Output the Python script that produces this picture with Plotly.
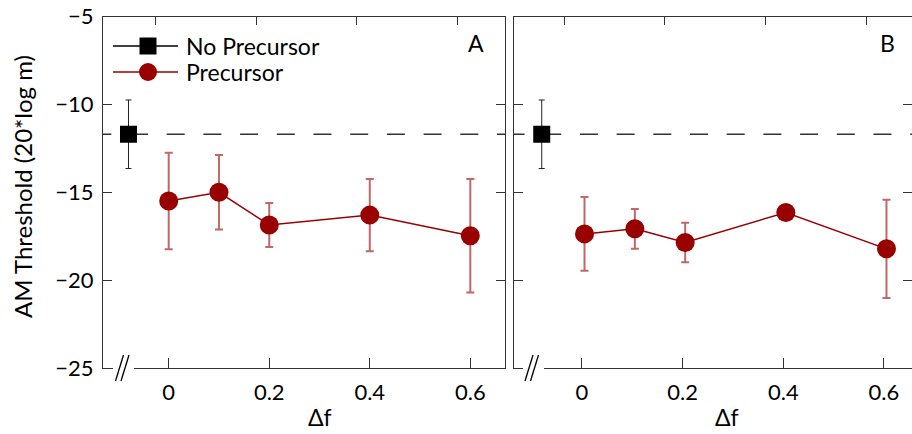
import plotly.graph_objects as go

# ---- data ----
df_a = [0.0, 0.1, 0.2, 0.4, 0.6]
prec_a = [-15.5, -15.0, -16.86, -16.3, -17.48]
prec_a_err = [2.75, 2.12, 1.25, 2.05, 3.23]

df_b = [0.005, 0.105, 0.205, 0.405, 0.605]
prec_b = [-17.37, -17.08, -17.86, -16.15, -18.22]
prec_b_err = [2.1, 1.13, 1.12, 0.15, 2.8]

noprec_x = [-0.08]
noprec_y = [-11.7]
noprec_err = [1.95]

yticks = [-25, -20, -15, -10, -5]
xticks = [0, 0.2, 0.4, 0.6]
xticktext = ["0", "0.2", "0.4", "0.6"]

W, H = 912, 434
RED = "#990000"
AX = "#333333"
FONT = "Lato"


def px(x):
    return x / W


def py(y):
    return 1 - y / H


ydom = [py(368), py(16.5)]
xdom_a = [px(103), px(505)]
xdom_b = [px(514), 1.0]
xr_a = [-0.1307, 0.669]
xr_b = [-0.1351, 0.6557]
shift_a = 0.0258
shift_b = 0.0352

fig = go.Figure()

for xa, ya, dfx, pv, pe in [("x", "y", df_a, prec_a, prec_a_err),
                            ("x2", "y2", df_b, prec_b, prec_b_err)]:
    fig.add_trace(go.Scatter(
        x=dfx, y=pv, mode="lines+markers", name="Precursor",
        xaxis=xa, yaxis=ya, showlegend=False,
        line=dict(color=RED, width=1.5),
        marker=dict(color=RED, size=19, symbol="circle"),
        error_y=dict(type="data", array=pe, visible=True,
                     color="rgba(153,0,0,0.6)", thickness=2, width=4),
    ))
    fig.add_trace(go.Scatter(
        x=noprec_x, y=noprec_y, mode="markers", name="No Precursor",
        xaxis=xa, yaxis=ya, showlegend=False,
        marker=dict(color="black", size=17, symbol="square"),
        error_y=dict(type="data", array=noprec_err, visible=True,
                     color="#222222", thickness=1, width=3),
    ))
    # dashed reference line at the no-precursor level
    fig.add_shape(type="line", xref=xa, yref=ya, x0=-0.15, x1=0.7,
                  y0=noprec_y[0], y1=noprec_y[0], layer="below",
                  line=dict(color=AX, width=1.5, dash="18px,18.7px"))

# dummy traces for overlay axes
for xa, ya in [("x3", "y"), ("x4", "y2"), ("x2", "y3")]:
    fig.add_trace(go.Scatter(x=[None], y=[None], xaxis=xa, yaxis=ya,
                             showlegend=False, hoverinfo="skip"))

tickfont = dict(family=FONT, size=22, color="black")
common_x = dict(showgrid=False, zeroline=False, ticks="inside", automargin=False,
                tickcolor=AX, tickwidth=1.2, linecolor=AX, linewidth=1.2,
                tickvals=xticks, ticktext=xticktext, tickfont=tickfont)
common_y = dict(showgrid=False, zeroline=False, ticks="inside", ticklen=9, automargin=False,
                tickcolor=AX, tickwidth=1.2, linecolor=AX, linewidth=1.2,
                tickvals=yticks, range=[-25, -5], domain=ydom, tickfont=tickfont)

fig.update_layout(
    template="none",
    width=W, height=H, margin=dict(l=0, r=0, t=0, b=0, pad=0),
    paper_bgcolor="white", plot_bgcolor="white",
    font=dict(family=FONT, color="black"),
    showlegend=False,
    xaxis=dict(**common_x, domain=xdom_a, range=xr_a, anchor="y", ticklen=10,
               showline=True, mirror=False, ticklabelstandoff=4),
    xaxis2=dict(**common_x, domain=xdom_b, range=xr_b, anchor="y2", ticklen=10,
                showline=True, mirror=False, ticklabelstandoff=4),
    xaxis3=dict(**common_x, overlaying="x", anchor="y", side="top",
                range=[xr_a[0] + shift_a, xr_a[1] + shift_a],
                showline=True, showticklabels=False, ticklen=8),
    xaxis4=dict(**common_x, overlaying="x2", anchor="y2", side="top",
                range=[xr_b[0] + shift_b, xr_b[1] + shift_b],
                showline=True, showticklabels=False, ticklen=8),
    yaxis=dict(**common_y, anchor="x", showline=True, mirror="ticks",
               ticklabelstandoff=4),
    yaxis2=dict(**common_y, anchor="x2", showline=True, mirror=False,
                showticklabels=False),
    yaxis3=dict(**common_y, anchor="x2", overlaying="y2", side="right",
                showline=False, showticklabels=False),
)

# axis breaks on the bottom axes
for gap0, gap1, s0 in [(113, 134, 115.5), (523, 544, 525)]:
    fig.add_shape(type="rect", xref="paper", yref="paper",
                  x0=px(gap0), x1=px(gap1), y0=py(372), y1=py(364),
                  fillcolor="white", line=dict(width=0), layer="above")
    for off in (0, 5.5):
        fig.add_shape(type="line", xref="paper", yref="paper",
                      x0=px(s0 + off), y0=py(381), x1=px(s0 + off + 8), y1=py(355),
                      line=dict(color="black", width=1.3), layer="above")

# manual legend
fig.add_shape(type="line", xref="paper", yref="paper",
              x0=px(113), x1=px(178), y0=py(46), y1=py(46),
              line=dict(color="black", width=1.3))
fig.add_shape(type="rect", xref="paper", yref="paper",
              x0=px(148 - 8.5), x1=px(148 + 8.5), y0=py(46 - 8.5), y1=py(46 + 8.5),
              fillcolor="black", line=dict(width=0))
fig.add_shape(type="line", xref="paper", yref="paper",
              x0=px(113), x1=px(178), y0=py(72), y1=py(72),
              line=dict(color=RED, width=1.3))
fig.add_shape(type="circle", xref="paper", yref="paper",
              x0=px(148 - 9), x1=px(148 + 9), y0=py(72 - 9), y1=py(72 + 9),
              fillcolor=RED, line=dict(width=0))

ann = [
    dict(text="No Precursor", x=px(184), y=py(46), xanchor="left", yanchor="middle", size=23),
    dict(text="Precursor", x=px(184), y=py(72), xanchor="left", yanchor="middle", size=23),
    dict(text="A", x=px(475.5), y=py(43), xanchor="center", yanchor="middle", size=23),
    dict(text="B", x=px(887), y=py(43), xanchor="center", yanchor="middle", size=23),
    dict(text="Δf", x=px(320), y=py(433), xanchor="center", yanchor="bottom", size=23),
    dict(text="Δf", x=px(727), y=py(433), xanchor="center", yanchor="bottom", size=23),
]
for a in ann:
    fig.add_annotation(text=a["text"], x=a["x"], y=a["y"], xref="paper", yref="paper",
                       xanchor=a["xanchor"], yanchor=a["yanchor"], showarrow=False,
                       font=dict(family=FONT, size=a["size"], color="black"))
fig.add_annotation(text="AM Threshold (20*log m)", x=px(23), y=py(187),
                   xref="paper", yref="paper", textangle=-90, showarrow=False,
                   xanchor="center", yanchor="middle",
                   font=dict(family=FONT, size=24, color="black"))

fig.write_html("out.html")
